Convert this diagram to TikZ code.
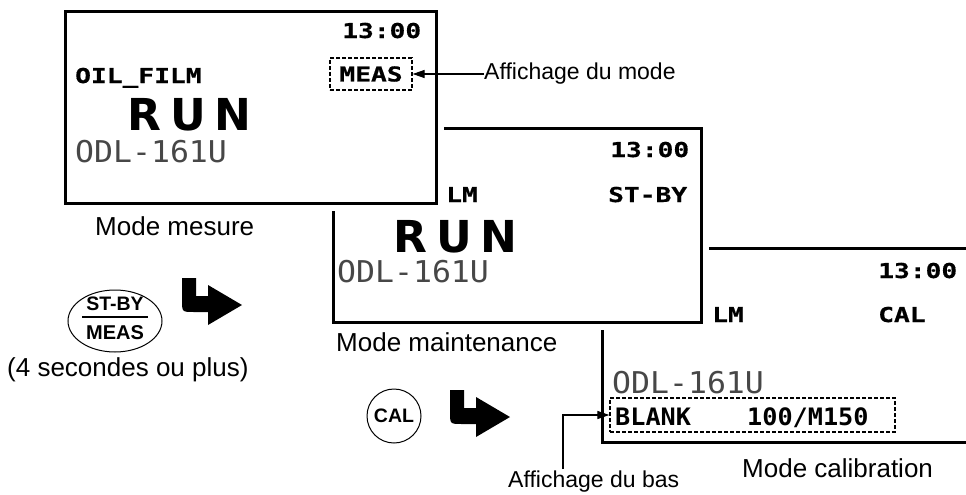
\documentclass[tikz,border=0pt]{standalone}
\usepackage{fontspec}
\setmainfont{Liberation Sans}
\newfontfamily\lcdfont{DejaVu Sans Mono}[FakeStretch=1.28,FakeBold=0.6]
\newfontfamily\lcdwide{DejaVu Sans Mono}[FakeStretch=1.05]
\newfontfamily\lcdrun{DejaVu Sans}
\usetikzlibrary{arrows.meta,shapes.geometric}
\tikzset{
  screen/.style={draw, line width=3pt, fill=white, preaction={draw=white, line width=16pt}, inner sep=0pt, outer sep=0pt},
  lcdf/.style={font=\lcdfont\bfseries\fontsize{20.5}{24}\selectfont},
  lcd/.style={lcdf, anchor=base west, inner sep=0pt},
  lcdb/.style={font=\lcdwide\bfseries\fontsize{24}{28}\selectfont, anchor=base west, inner sep=0pt},
  lcdthin/.style={font=\lcdwide\fontsize{30}{34}\selectfont, text=black!72, anchor=base west, inner sep=0pt},
  runtxt/.style={font=\lcdrun\bfseries\fontsize{44}{48}\selectfont, anchor=base west, inner sep=0pt},
  dashbox/.style={draw, dash pattern=on 4pt off 2pt, line width=1.3pt, inner sep=0pt},
  lblbig/.style={font=\fontsize{26}{30}\selectfont, anchor=base west, inner sep=0pt},
  lblsmall/.style={font=\fontsize{23}{27}\selectfont, anchor=base west, inner sep=0pt},
  ptr/.style={line width=1.2pt, -{Triangle[length=12pt,width=8pt]}},
  btntxt/.style={font=\bfseries\fontsize{19.5}{22}\selectfont, inner sep=0pt},
  bentarrow/.pic={\fill (0,0) -- (14,0) -- (14,18) -- (26,18) -- (26,7) -- (60,27) -- (26,47) -- (26,34) -- (12,34) .. controls (0,34) .. (0,22) -- cycle;}
}
\begin{document}
\begin{tikzpicture}[x=1pt,y=-1pt]
\useasboundingbox (0,0) rectangle (966,495);
\clip (0,0) rectangle (966,495);
% ---------- screen 3 (calibration)
\node[screen, minimum width=388pt, minimum height=194pt] (s3) at (796,345) {};
\node[lcd] (s3time) at (878,278) {13:00};
\node[lcd] (s3name) at (712,322) {LM};
\node[lcd] (s3mode) at (878,322) {CAL};
\node[lcdthin] (s3model) at (612,393) {ODL-161U};
\node[dashbox, minimum width=285pt, minimum height=34pt] (blank) at (752.5,415) {};
\node[lcdb] (blanktxt) at (615,425) {BLANK};
\node[lcdb] (rangetxt) at (747,425) {100/M150};
% ---------- screen 2 (maintenance)
\node[screen, minimum width=368pt, minimum height=194pt] (s2) at (517,225) {};
\node[lcd] (s2time) at (610,157) {13:00};
\node[lcd] (s2name) at (446,202) {LM};
\node[lcd] (s2mode) at (608,202) {ST-BY};
\node[runtxt] (s2run) at (393,252) {R\hspace{9pt}U\hspace{9pt}N};
\node[lcdthin] (s2model) at (337,282) {ODL-161U};
% ---------- screen 1 (mesure)
\node[screen, minimum width=371pt, minimum height=191pt] (s1) at (250.5,107.5) {};
\node[lcd] (s1time) at (342,38) {13:00};
\node[lcd] (s1name) at (75,83) {OIL\_FILM};
\node[dashbox, lcdf, minimum width=82pt, minimum height=32pt] (meas) at (371,74) {MEAS};
\node[runtxt] (s1run) at (127,130) {R\hspace{9pt}U\hspace{9pt}N};
\node[lcdthin] (s1model) at (75,162) {ODL-161U};
% ---------- labels
\node[lblsmall] (affmode) at (484,80) {Affichage du mode};
\draw[ptr] (affmode.west |- meas.east) -- (meas.east);
\node[lblbig] (lblmes) at (95,235) {Mode mesure};
\node[lblbig] (lblmaint) at (336,351) {Mode maintenance};
\node[lblbig] (lblcal) at (742,477) {Mode calibration};
\node[lblbig] (lbl4s) at (7,376) {(4 secondes ou plus)};
\node[lblsmall] (affbas) at (508,487) {Affichage du bas};
\coordinate (basfoot) at (563,469);
\draw[ptr] (basfoot) |- (blank.west);
% ---------- buttons
\node[draw, ellipse, line width=1pt, minimum width=94pt, minimum height=62pt, inner sep=0pt] (stby) at (115,321) {};
\node[btntxt, anchor=base] (stbytop) at (115,310) {ST-BY};
\node[btntxt, anchor=base, font=\bfseries\fontsize{20}{22}\selectfont] (stbybot) at (115,339) {MEAS};
\draw[line width=1.2pt] (82,317) -- (148,317);
\node[draw, circle, line width=1pt, minimum size=54pt, inner sep=0pt, btntxt] (cal) at (394,416) {CAL};
% ---------- bent arrows
\pic at (182,278) {bentarrow};
\pic at (450,390) {bentarrow};
\end{tikzpicture}
\end{document}
